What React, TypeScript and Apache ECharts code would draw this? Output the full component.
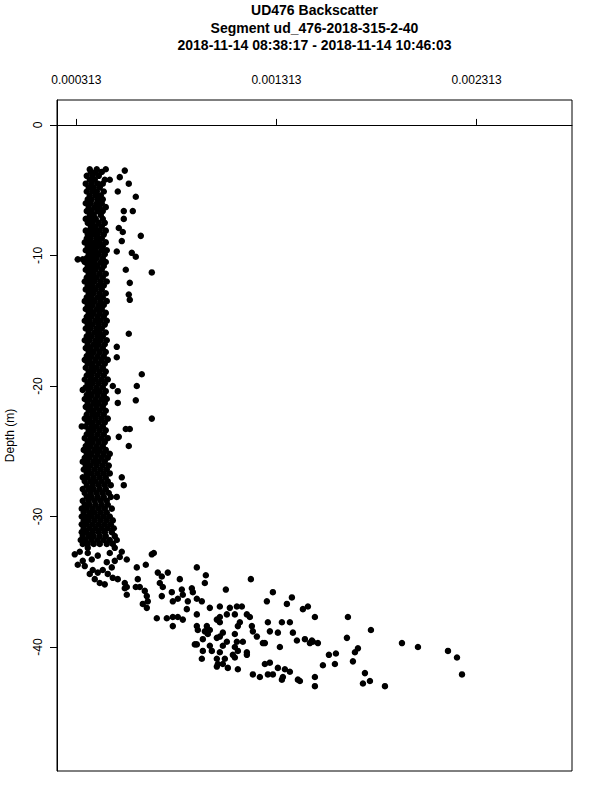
import React, { useEffect, useRef } from "react";
import * as echarts from "echarts";

// Axis ticks (backscatter on the top axis, depth on the left axis)
const xTickValues = [0.000313, 0.001313, 0.002313];
const yTickValues = [0, -10, -20, -30, -40];

const titleLines = [
  "UD476 Backscatter",
  "Segment ud_476-2018-315-2-40",
  "2018-11-14 08:38:17 - 2018-11-14 10:46:03",
];
const yAxisTitle = "Depth (m)";

// Dense column: each row = [depth (m), backscatter values in units of 1e-6 ...]
const columnRows: number[][] = [
  [-3.6, 385, 410, 440],
  [-3.9, 365, 395, 425],
  [-4.2, 380, 405, 455],
  [-4.5, 360, 390, 420, 445],
  [-4.8, 375, 400, 430],
  [-5.1, 365, 395, 415, 450],
  [-5.4, 380, 410, 435],
  [-5.7, 370, 390, 420, 445],
  [-6.0, 360, 385, 415, 440],
  [-6.3, 375, 405, 430, 460],
  [-6.6, 365, 390, 420, 445],
  [-6.9, 380, 400, 435],
  [-7.2, 360, 385, 410, 445],
  [-7.5, 370, 395, 425, 455],
  [-7.8, 385, 410, 440],
  [-8.1, 360, 380, 405, 430, 460],
  [-8.4, 370, 395, 420, 450],
  [-8.7, 365, 385, 415, 440],
  [-9.0, 355, 380, 405, 430, 460],
  [-9.3, 370, 395, 420, 445],
  [-9.6, 360, 385, 410, 440, 465],
  [-9.9, 375, 400, 425, 455],
  [-10.2, 365, 390, 415, 445],
  [-10.5, 355, 380, 405, 435, 460],
  [-10.8, 370, 395, 420, 450],
  [-11.1, 360, 385, 410, 440],
  [-11.4, 375, 400, 430, 460],
  [-11.7, 365, 390, 415, 445],
  [-12.0, 355, 380, 405, 435, 465],
  [-12.3, 370, 395, 425, 450],
  [-12.6, 360, 385, 410, 440],
  [-12.9, 375, 400, 430, 460],
  [-13.2, 365, 390, 420, 445],
  [-13.5, 355, 380, 405, 435, 465],
  [-13.8, 370, 395, 425, 450],
  [-14.1, 360, 385, 415, 440],
  [-14.4, 375, 400, 430, 460],
  [-14.7, 365, 390, 420, 450],
  [-15.0, 355, 380, 410, 435, 465],
  [-15.3, 370, 395, 425, 455],
  [-15.6, 360, 385, 415, 440],
  [-15.9, 375, 405, 430, 460],
  [-16.2, 365, 390, 420, 445],
  [-16.5, 355, 380, 410, 435, 465],
  [-16.8, 370, 400, 425, 455],
  [-17.1, 360, 385, 415, 445],
  [-17.4, 375, 400, 430, 460],
  [-17.7, 365, 390, 420, 450],
  [-18.0, 355, 380, 410, 440, 470],
  [-18.3, 370, 395, 425, 455],
  [-18.6, 360, 390, 415, 445],
  [-18.9, 375, 400, 430, 460],
  [-19.2, 365, 390, 420, 450],
  [-19.5, 355, 385, 410, 440, 470],
  [-19.8, 370, 395, 425, 455],
  [-20.1, 360, 385, 415, 445],
  [-20.4, 375, 405, 430, 460],
  [-20.7, 365, 390, 420, 450],
  [-21.0, 355, 380, 410, 440, 465],
  [-21.3, 370, 400, 425, 455],
  [-21.6, 360, 385, 415, 445],
  [-21.9, 375, 400, 430, 460],
  [-22.2, 365, 395, 420, 450],
  [-22.5, 355, 380, 410, 440, 470],
  [-22.8, 370, 395, 425, 455],
  [-23.1, 360, 390, 415, 445],
  [-23.4, 375, 400, 430, 460],
  [-23.7, 365, 390, 420, 450],
  [-24.0, 355, 385, 410, 440, 470],
  [-24.3, 370, 395, 425, 455],
  [-24.6, 360, 385, 415, 445],
  [-24.9, 350, 375, 405, 430, 460],
  [-25.2, 365, 390, 420, 450, 480],
  [-25.5, 355, 380, 410, 440, 470],
  [-25.8, 345, 370, 400, 425, 455],
  [-26.1, 360, 385, 415, 445, 475],
  [-26.4, 350, 375, 405, 435, 465],
  [-26.7, 365, 390, 420, 450, 480],
  [-27.0, 345, 370, 400, 430, 460],
  [-27.3, 355, 385, 410, 440, 470],
  [-27.6, 365, 395, 425, 455, 485],
  [-27.9, 345, 375, 400, 430, 460],
  [-28.2, 355, 385, 415, 445, 475],
  [-28.5, 365, 390, 420, 450, 485],
  [-28.8, 345, 375, 405, 435, 465],
  [-29.1, 355, 380, 410, 440, 470],
  [-29.4, 340, 365, 395, 425, 455, 490],
  [-29.7, 350, 380, 405, 435, 465],
  [-30.0, 340, 365, 390, 420, 450, 480],
  [-30.3, 350, 375, 405, 435, 465, 495],
  [-30.6, 340, 365, 395, 425, 455, 485],
  [-30.9, 350, 380, 410, 440, 470, 500],
  [-31.2, 340, 365, 395, 425, 455, 490],
  [-31.5, 345, 375, 400, 430, 460, 505],
  [-31.8, 335, 360, 390, 420, 450, 480, 515],
  [-32.1, 345, 370, 400, 430, 465, 495],
];

// Scattered points beside the column: [backscatter (1e-6), depth (m)]
const upperOutliers: number[][] = [
  [380, -3.4], [415, -3.4], [460, -3.4], [555, -3.5], [480, -4.2], [530, -4.0],
  [575, -4.5], [520, -5.1], [610, -5.5], [550, -6.6], [595, -6.6], [550, -7.2],
  [525, -7.9], [545, -8.2], [635, -8.5], [540, -8.9], [515, -9.7], [590, -9.8],
  [610, -10.1], [320, -10.3], [345, -10.3], [560, -11.1], [690, -11.3],
  [580, -12.1], [575, -13.0], [580, -13.4], [575, -16.0],
];

const middleOutliers: number[][] = [
  [515, -17.0], [515, -17.8], [640, -19.1], [615, -20.0], [495, -20.0],
  [520, -20.4], [345, -20.3], [610, -21.1], [520, -21.3], [690, -22.5],
  [340, -23.1], [560, -23.3], [580, -23.3], [525, -23.9], [575, -24.6],
  [540, -27.0], [550, -27.6], [515, -28.5],
];

const bendPoints: number[][] = [
  [305, -32.9], [330, -32.7], [320, -33.7], [345, -33.4], [370, -32.8],
  [390, -33.3], [395, -34.1], [405, -34.8], [430, -35.1], [420, -34.3],
  [445, -34.1], [465, -33.5], [490, -33.9], [480, -32.8], [505, -32.4],
  [530, -33.1], [540, -32.7], [565, -33.3], [520, -34.8], [555, -35.1],
  [565, -35.4], [555, -35.5], [565, -36.0], [355, -33.8], [380, -34.4],
  [470, -34.4], [495, -34.7], [455, -35.2], [370, -32.4], [420, -33.0],
  [505, -33.4],
];

const tailPoints: number[][] = [
  [615, -33.9], [660, -33.7], [700, -32.8], [690, -32.9], [620, -34.8],
  [630, -35.4], [655, -35.7], [665, -36.1], [670, -36.5], [645, -36.7],
  [665, -37.0], [610, -35.4], [720, -34.3], [740, -34.6], [770, -34.3],
  [730, -35.1], [745, -35.4], [740, -36.1], [790, -35.8], [830, -34.8],
  [840, -35.6], [845, -36.0], [820, -36.3], [870, -36.5], [890, -35.5],
  [895, -35.8], [865, -37.1], [915, -36.3], [940, -36.5], [915, -33.9],
  [960, -34.5], [955, -35.1], [980, -37.0], [715, -37.8], [765, -37.8],
  [795, -37.7], [820, -37.7], [845, -37.9], [795, -38.4], [915, -37.5],
  [915, -38.4], [965, -38.4], [1015, -37.9], [1060, -35.6], [1080, -37.0],
  [1115, -36.9], [1140, -36.9], [1065, -37.5], [1105, -37.5], [1165, -37.5],
  [1180, -37.7], [1030, -37.7], [1030, -38.1], [1030, -36.9], [795, -36.5],
  [920, -38.7], [955, -38.8], [980, -38.7], [970, -39.0], [945, -39.4],
  [915, -39.8], [980, -39.9], [1030, -39.2], [1045, -38.9], [1065, -39.6],
  [1015, -39.3], [1105, -39.0], [1120, -38.4], [1130, -38.1], [1115, -39.6],
  [1105, -40.0], [1120, -40.3], [1095, -40.6], [1145, -39.6], [1165, -40.4],
  [1190, -38.4], [1195, -38.8], [1215, -39.2], [1255, -39.7], [1270, -38.1],
  [1280, -38.8], [1320, -38.9], [1340, -38.1], [1380, -38.1], [1395, -38.9],
  [1415, -39.5], [1455, -39.4], [1495, -39.6], [1330, -40.0], [1265, -36.5],
  [1295, -35.8], [1365, -36.7], [1390, -36.2], [1445, -37.1], [1470, -36.9],
  [1505, -37.7], [1185, -34.8], [945, -40.3], [990, -40.3], [1030, -40.4],
  [1015, -40.9], [1055, -40.9], [1045, -41.3], [1020, -41.3], [1070, -41.6],
  [1105, -40.8], [1120, -41.7], [940, -40.9], [905, -39.8], [1195, -42.1],
  [1230, -42.3], [1255, -41.3], [1280, -41.2], [1270, -42.1], [1295, -42.1],
  [1320, -41.6], [1340, -42.5], [1355, -41.7], [1380, -41.9], [1345, -42.3],
  [1420, -42.5], [1505, -42.3], [1505, -43.0], [1245, -39.7], [1165, -40.6],
  [1520, -39.7], [1490, -39.5], [1480, -39.7], [1575, -40.6], [1610, -40.5],
  [1670, -37.7], [1785, -38.7], [1665, -39.3], [1940, -39.7], [2020, -40.0],
  [2170, -40.3], [2215, -40.8], [2240, -42.1], [1720, -40.1], [1705, -40.4],
  [1695, -41.1], [1605, -41.3], [1545, -41.4], [1430, -42.6], [1755, -42.0],
  [1780, -42.6], [1745, -42.8], [1855, -43.0], [1045, -39.9], [1015, -41.5],
];

const X_MIN = 0.0002163;
const X_MAX = 0.0027897;
const Y_MIN = -49.5;
const Y_MAX = 1.91;

const FONT = "'Liberation Sans', Arial, Helvetica, sans-serif";

function buildData(): number[][] {
  const out: number[][] = [];
  for (const row of columnRows) {
    const d = row[0];
    for (let i = 1; i < row.length; i++) out.push([row[i] * 1e-6, d]);
  }
  for (const group of [upperOutliers, middleOutliers, bendPoints, tailPoints]) {
    for (const p of group) out.push([p[0] * 1e-6, p[1]]);
  }
  return out;
}

export default function App() {
  const ref = useRef<HTMLDivElement>(null);
  useEffect(() => {
    if (!ref.current) return;
    const chart = echarts.init(ref.current, undefined, { renderer: "svg" });
    const plotLeft = 57;
    const plotTop = 100;
    const plotW = 515;
    const plotH = 671;
    const cx = plotLeft + plotW / 2;
    chart.setOption({
      animation: false,
      backgroundColor: "#ffffff",
      textStyle: { fontFamily: FONT },
      grid: {
        left: plotLeft,
        top: plotTop,
        width: plotW,
        height: plotH,
        show: true,
        borderColor: "#000",
        borderWidth: 1,
        backgroundColor: "transparent",
      },
      xAxis: {
        type: "value",
        position: "top",
        min: X_MIN,
        max: X_MAX,
        axisLine: { show: true, lineStyle: { color: "#000", width: 1 } },
        axisTick: {
          show: true,
          length: 6,
          customValues: xTickValues,
          lineStyle: { color: "#000" },
        },
        axisLabel: {
          show: true,
          customValues: xTickValues,
          margin: 14,
          color: "#000",
          fontSize: 12,
          fontFamily: FONT,
          formatter: (v: number) => v.toFixed(6),
        },
        splitLine: { show: false },
      },
      yAxis: {
        type: "value",
        min: Y_MIN,
        max: Y_MAX,
        axisLine: { show: true, lineStyle: { color: "#000", width: 1 } },
        axisTick: {
          show: true,
          length: 7,
          customValues: yTickValues,
          lineStyle: { color: "#000" },
        },
        axisLabel: {
          show: true,
          customValues: yTickValues,
          rotate: 90,
          margin: 13,
          color: "#000",
          fontSize: 12,
          fontFamily: FONT,
          formatter: (v: number) => String(v),
        },
        splitLine: { show: false },
      },
      graphic: [
        ...titleLines.map((t, i) => ({
          type: "text",
          x: cx,
          y: 10 + i * 17.5,
          style: {
            text: t,
            fill: "#000",
            font: `bold 14px ${FONT}`,
            textAlign: "center",
            textVerticalAlign: "middle",
          },
        })),
        {
          type: "text",
          x: 10,
          y: plotTop + plotH / 2,
          rotation: Math.PI / 2,
          style: {
            text: yAxisTitle,
            fill: "#000",
            font: `12px ${FONT}`,
            textAlign: "center",
            textVerticalAlign: "middle",
          },
        },
      ],
      series: [
        {
          type: "scatter",
          symbol: "circle",
          symbolSize: 6.5,
          data: buildData(),
          itemStyle: { color: "#000", opacity: 1 },
          emphasis: { disabled: true },
        },
      ],
    });
    return () => chart.dispose();
  }, []);
  return (
    <div
      ref={ref}
      style={{ position: "fixed", left: 0, top: 0, width: 600, height: 800 }}
    />
  );
}
